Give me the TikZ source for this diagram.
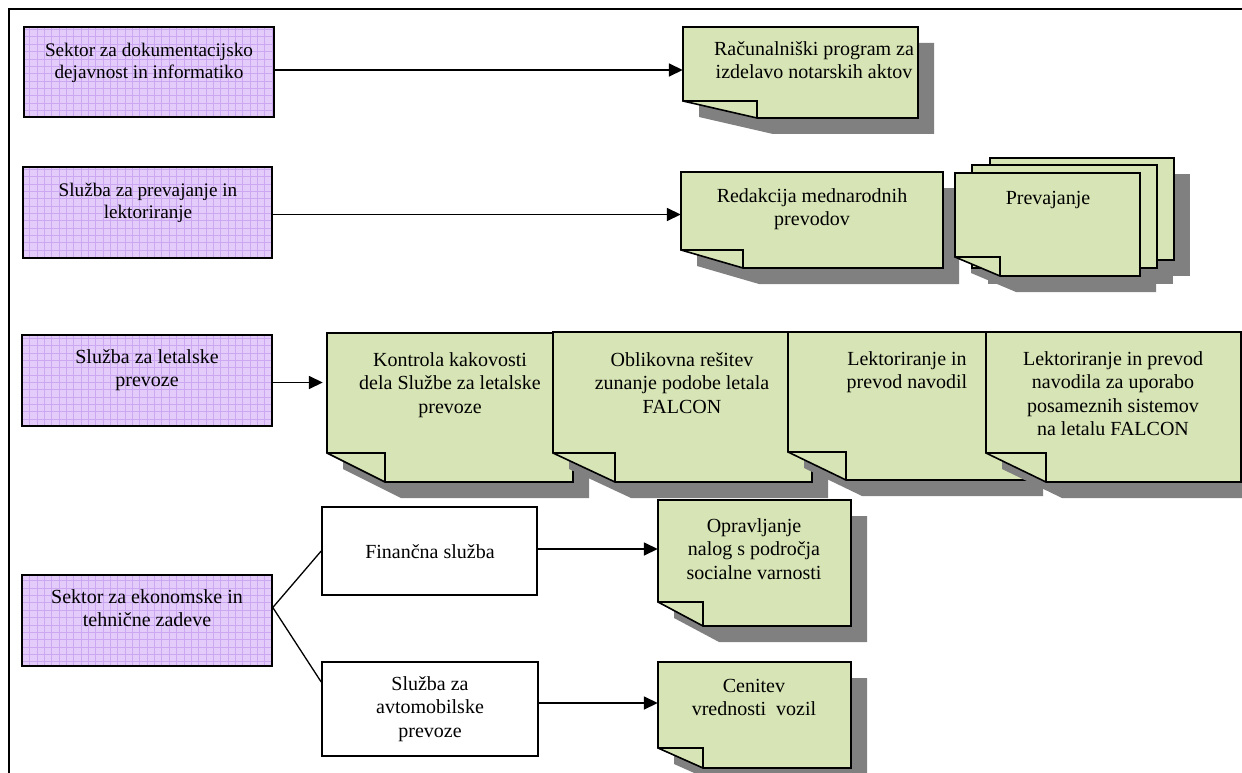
\documentclass[tikz,border=0pt]{standalone}
\usepackage{fontspec}
\setmainfont{Liberation Serif}
\usetikzlibrary{arrows.meta}

\definecolor{lilac}{HTML}{E4CCFA}
\definecolor{lilacgrid}{HTML}{CDA8F2}
\definecolor{notegreen}{HTML}{D7E4B5}
\definecolor{shadowgray}{HTML}{808080}

\tikzset{
  boxline/.style={draw=black, line width=1.6pt},
  link/.style={draw=black, line width=1.6pt, -{Triangle[length=14pt,width=13pt]}},
  branch/.style={draw=black, line width=1.3pt},
  label/.style={font=\fontsize{20}{23.5}\selectfont, align=center, inner sep=0pt, anchor=north},
  tightlabel/.style={label, font=\fontsize{19.2}{21.5}\selectfont},
  frameline/.style={draw=black, line width=1.8pt},
}

% lilac unit box with a fine grid texture: name, left, top, right, bottom
\newcommand\lilacbox[5]{%
  \fill[lilac] (#2,#3) rectangle (#4,#5);
  \begin{scope}
    \clip (#2,#3) rectangle (#4,#5);
    \draw[lilacgrid, line width=0.5pt, step=7.35pt] (#2,#3) grid (#4,#5);
  \end{scope}
  \node[boxline, inner sep=0pt, minimum width={(#4-#2)*1pt}, minimum height={(#5-#3)*1pt}]
    (#1) at ({(#2+#4)/2},{(#3+#5)/2}) {};
}

% plain white box: name, left, top, right, bottom
\newcommand\plainbox[5]{%
  \node[boxline, fill=white, inner sep=0pt, minimum width={(#4-#2)*1pt}, minimum height={(#5-#3)*1pt}]
    (#1) at ({(#2+#4)/2},{(#3+#5)/2}) {};
}

% drop shadow of a note: left, top, right, bottom, fold width, fold height
\newcommand\noteshadow[6]{%
  \fill[shadowgray] ({#1+16},{#2+16}) -- ({#3+16},{#2+16}) -- ({#3+16},{#4+16})
    -- ({#1+#5+16},{#4+16}) -- ({#1+16},{#4-#6+16}) -- cycle;
}

% note with a turned-up lower left corner: name, left, top, right, bottom, fold width, fold height
\newcommand\notebody[7]{%
  \filldraw[fill=notegreen, draw=black, line width=1.6pt, line join=miter]
    (#2,#3) -- (#4,#3) -- (#4,#5) -- ({#2+#6},#5) -- (#2,{#5-#7}) -- cycle;
  \draw[black, line width=1.6pt] (#2,{#5-#7}) -- ({#2+#6},{#5-#7}) -- ({#2+#6},#5);
  \node[inner sep=0pt, minimum width={(#4-#2)*1pt}, minimum height={(#5-#3)*1pt}]
    (#1) at ({(#2+#4)/2},{(#3+#5)/2}) {};
}

\newcommand\note[7]{%
  \noteshadow{#2}{#3}{#4}{#5}{#6}{#7}%
  \notebody{#1}{#2}{#3}{#4}{#5}{#6}{#7}%
}

\begin{document}
\begin{tikzpicture}[x=1pt, y=-1pt]
  \useasboundingbox (0,0) rectangle (1242,773);
  \fill[white] (0,0) rectangle (1242,773);

  % outer frame
  \draw[frameline] (9,780) -- (9,9) -- (1250,9);

  % organisational units
  \lilacbox{p1}{24}{27}{274}{117}
  \lilacbox{p2}{23}{167}{272}{258}
  \lilacbox{p3}{22}{335}{272}{426}
  \lilacbox{p4}{22}{575}{272}{666}
  \plainbox{fin}{322}{507}{537}{595}
  \plainbox{avt}{322}{662}{538}{756}

  \node[tightlabel] (tp1) at (149,43) {Sektor za dokumentacijsko\\dejavnost in informatiko};
  \node[tightlabel] (tp2) at (148,183) {Služba za prevajanje in\\lektoriranje};
  \node[label] (tp3) at (147,349) {Služba za letalske\\prevoze};
  \node[label] (tp4) at (147,589) {Sektor za ekonomske in\\tehnične zadeve};
  \node[label] (tfin) at (430,544) {Finančna služba};
  \node[label] (tavt) at (430,676) {Služba za\\avtomobilske\\prevoze};

  % tasks, row 1
  \note{n1}{683}{27}{918}{118}{74}{17}
  \node[label] (tn1) at (814,41) {Računalniški program za\\izdelavo notarskih aktov};

  % tasks, row 2
  \note{n2}{681}{172}{943}{268}{62}{18}
  \node[label] (tn2) at (812,188) {Redakcija mednarodnih\\prevodov};

  % stack of translation sheets
  \fill[shadowgray] (1006,174) rectangle (1190,276);
  \fill[shadowgray] (988,181) rectangle (1173,284);
  \noteshadow{955}{173}{1140}{276}{45}{19}
  \filldraw[fill=notegreen, draw=black, line width=1.6pt] (990,158) rectangle (1174,260);
  \filldraw[fill=notegreen, draw=black, line width=1.6pt] (972,165) rectangle (1157,268);
  \notebody{n3}{955}{173}{1140}{276}{45}{19}
  \node[label] (tn3) at (1048,191) {Prevajanje};

  % tasks, row 3
  \note{n4}{327}{333}{573}{482}{58}{29}
  \node[label] (tn4) at (450,352) {Kontrola kakovosti\\dela Službe za letalske\\prevoze};
  \note{n5}{553}{332}{812}{482}{62}{29}
  \node[label] (tn5) at (682,352) {Oblikovna rešitev\\zunanje podobe letala\\FALCON};
  \note{n6}{788}{332}{1027}{480}{58}{28}
  \node[label] (tn6) at (907,351) {Lektoriranje in\\prevod navodil};
  \note{n7}{986}{332}{1241}{482}{60}{29}
  \node[label] (tn7) at (1113,351) {Lektoriranje in prevod\\navodila za uporabo\\posameznih sistemov\\na letalu FALCON};

  % tasks, row 4
  \note{n8}{658}{500}{851}{626}{45}{24}
  \node[label] (tn8) at (754,518) {Opravljanje\\nalog s področja\\socialne varnosti};
  \note{n9}{658}{662}{851}{768}{45}{20}
  \node[label] (tn9) at (754,679) {Cenitev\\vrednosti\ \ vozil};

  % connectors
  \draw[link] ([yshift=2pt]p1.east) -- ([yshift=2pt]p1.east -| n1.west);
  \draw[link] ([yshift=-2pt]p2.east) -- ([yshift=-2pt]p2.east -| n2.west);
  \draw[link] ([yshift=-2pt]p3.east) -- ([yshift=-2pt,xshift=-4pt]p3.east -| n4.west);
  \draw[branch] (fin.west) -- ([yshift=13pt]p4.east) -- ([yshift=27pt]avt.west);
  \draw[link] ([yshift=2pt]fin.east) -- ([yshift=2pt]fin.east -| n8.west);
  \draw[link] ([yshift=6pt]avt.east) -- ([yshift=6pt]avt.east -| n9.west);
\end{tikzpicture}
\end{document}
